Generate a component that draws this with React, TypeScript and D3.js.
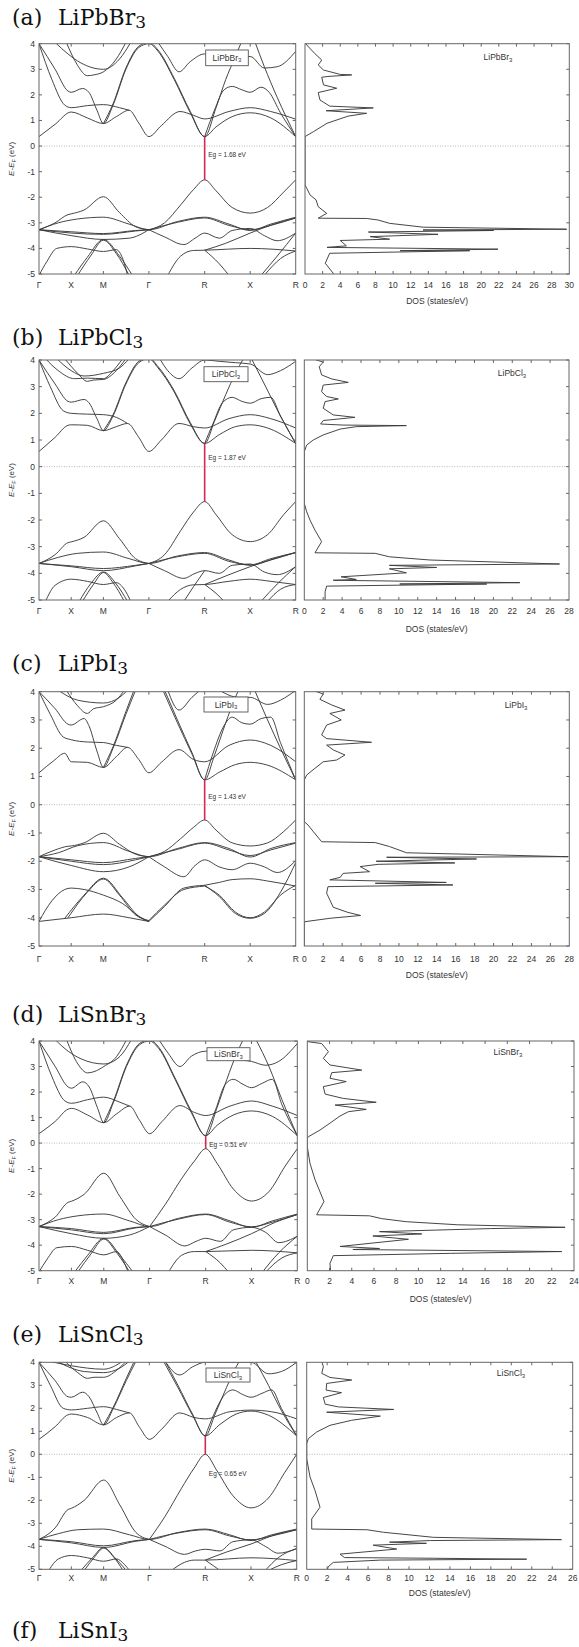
import React from "react";
import * as d3 from "d3";

type Pt = [number, number];

// ---------- shared axes data ----------
const K_POINTS = [0, 1, 2, 3.414, 5.146, 6.56, 7.974];
const K_LABELS = ["Γ", "X", "M", "Γ", "R", "X", "R"];
const E_TICKS = [4, 3, 2, 1, 0, -1, -2, -3, -4, -5];
const PANEL_TAGS = ["(a)", "(b)", "(c)", "(d)", "(e)"];
const COMPOUNDS = ["LiPbBr", "LiPbCl", "LiPbI", "LiSnBr", "LiSnCl"];
const EXTRA_TAG = "(f)";
const EXTRA_COMPOUND = "LiSnI";
const GAP_LABELS = ["1.68", "1.87", "1.43", "0.51", "0.65"];
const CBM = [0.37, 0.87, 0.88, 0.29, 0.8];
const VBM = [-1.32, -1.31, -0.54, -0.22, 0.0];
const DOS_MAX = [30, 28, 28, 24, 26];

// ---------- band structures [k, E] ----------
const bandsLiPbBr3: Pt[][] = [
  [[0,0.37],[0.5,0.85],[1,1.33],[1.5,1.1],[2,0.88],[2.4,1.15],[2.8,1.4],[3.1,0.9],[3.414,0.37],[3.8,0.8],[4.38,1.35],[4.8,1.2],[5.146,1.06],[5.9,1.35],[6.56,1.5],[7.2,1.35],[7.974,1.05]],
  [[0,4],[0.5,3.0],[0.9,2.15],[1,2.1],[1.35,2.25],[1.55,2.1],[1.8,1.4],[2,0.88],[2.3,1.6],[2.7,3.0],[3.1,3.85],[3.414,4.0],[3.7,3.7],[4.2,2.6],[4.7,1.3],[5.146,0.37],[5.5,0.75],[6.0,1.15],[6.56,1.3],[7.2,1.1],[7.974,0.37]],
  [[0,4],[0.4,2.6],[0.8,1.6],[1,1.5],[1.5,1.58],[2,1.62],[2.5,1.5],[2.8,1.4]],
  [[2,0.88],[2.3,1.65],[2.7,3.05],[3.1,3.9],[3.414,4.05],[3.7,3.75],[4.2,2.65],[4.7,1.35],[5.146,0.37],[5.5,1.5],[5.8,2.6],[6.1,3.5],[6.3,4.1]],
  [[5.146,0.37],[5.45,1.4],[5.75,2.2],[6.0,2.33],[6.3,2.2],[6.56,2.1],[6.9,2.3],[7.15,2.1],[7.5,1.3],[7.974,0.37]],
  [[6.7,4.1],[7.0,3.1],[7.4,1.9],[7.974,0.37]],
  [[0.5,4.05],[0.9,3.6],[1.3,3.25],[2,3.0],[2.5,3.4],[2.85,4.05]],
  [[0.85,4.05],[1.2,3.15],[1.5,2.75],[1.7,2.78],[2,2.9],[2.4,3.4],[2.7,4.05]],
  [[3.7,4.05],[4.0,3.5],[4.35,2.9],[4.7,3.3],[5.146,3.6],[5.6,3.6],[6.0,3.5],[6.56,3.5],[7.0,3.05],[7.4,3.1],[7.974,3.7]],
  [[3.414,-3.28],[3.9,-3.0],[4.4,-2.3],[4.8,-1.7],[5.146,-1.32],[5.5,-1.75],[6.0,-2.4],[6.56,-2.62],[7.1,-2.4],[7.6,-1.8],[7.974,-1.32]],
  [[0,-3.27],[0.5,-3.0],[0.9,-2.68],[1,-2.65],[1.4,-2.5],[2,-1.98],[2.5,-2.6],[3.0,-3.15],[3.414,-3.27]],
  [[0,-3.27],[0.6,-3.0],[1.2,-2.85],[2,-2.78],[2.8,-3.05],[3.414,-3.27],[4.3,-2.95],[5.146,-2.78],[5.9,-3.05],[6.56,-3.3],[7.2,-3.05],[7.974,-2.78]],
  [[3.414,-3.27],[4.3,-2.98],[5.146,-2.81],[5.9,-3.1],[6.56,-3.27],[7.2,-3.1],[7.974,-2.81]],
  [[0,-3.27],[1,-3.35],[2,-3.42],[3,-3.3],[3.414,-3.27]],
  [[0,-3.27],[1,-3.4],[2,-3.45],[3,-3.32],[3.414,-3.27]],
  [[0,-3.27],[1,-3.5],[2,-3.65],[2.8,-3.6],[3.414,-3.27]],
  [[3.414,-3.27],[3.9,-3.55],[4.5,-3.85],[4.85,-3.6],[5.146,-3.4],[5.6,-3.6],[6.0,-3.3],[6.56,-3.22],[7.0,-3.5],[7.4,-3.7],[7.974,-3.4]],
  [[5.146,-4.07],[5.8,-3.8],[6.56,-3.4],[7.3,-3.05],[7.974,-2.81]],
  [[4.0,-5.05],[4.4,-4.3],[4.8,-4.08],[5.146,-4.07],[6.56,-4.0],[7.974,-4.1]],
  [[0,-5.05],[0.25,-4.5],[0.55,-4.0],[1,-3.93],[1.5,-4.02],[2,-4.12],[2.4,-4.05],[2.6,-4.4],[2.75,-5.05]],
  [[1.1,-5.05],[1.5,-4.35],[2,-3.65],[2.5,-4.3],[2.9,-5.05]],
  [[1.2,-5.05],[1.6,-4.3],[2,-3.68],[2.4,-4.2],[2.8,-5.05]],
  [[5.146,-4.07],[5.6,-4.6],[5.9,-5.05]],
  [[6.9,-5.05],[7.4,-4.3],[7.974,-3.4]],
  [[7.0,-5.05],[7.5,-4.4],[7.974,-4.1]],
];

const bandsLiPbCl3: Pt[][] = [
  [[0,0.57],[0.5,1.1],[0.9,1.55],[1,1.57],[1.5,1.55],[2,1.35],[2.4,1.5],[2.75,1.62],[3.1,1.1],[3.414,0.57],[3.8,1.0],[4.35,1.62],[4.8,1.5],[5.146,1.45],[5.9,1.8],[6.56,1.95],[7.2,1.8],[7.974,1.45]],
  [[0,4],[0.5,3.1],[0.9,2.45],[1,2.42],[1.4,2.52],[1.55,2.4],[1.8,1.8],[2,1.35],[2.3,1.9],[2.7,3.1],[3.1,3.9],[3.414,4.05],[3.7,3.7],[4.2,2.8],[4.7,1.6],[5.146,0.87],[5.6,1.2],[6.1,1.5],[6.56,1.57],[7.1,1.45],[7.974,0.87]],
  [[0,4],[0.35,3.0],[0.75,2.1],[1,2.0],[1.5,1.97],[2,1.95],[2.4,1.85],[2.75,1.62]],
  [[2,1.35],[2.3,1.95],[2.7,3.15],[3.1,3.95],[3.414,4.08],[3.7,3.75],[4.2,2.85],[4.7,1.65],[5.146,0.87],[5.45,1.7],[5.8,2.7],[6.1,3.5],[6.35,4.05]],
  [[5.146,0.87],[5.4,1.6],[5.7,2.4],[6.0,2.6],[6.3,2.45],[6.56,2.38],[6.9,2.55],[7.2,2.6],[7.5,1.9],[7.974,0.87]],
  [[6.6,4.05],[7.0,3.1],[7.5,1.9],[7.974,0.87]],
  [[0.55,4.05],[1.0,3.6],[1.4,3.4],[2,3.5],[2.5,3.7],[2.8,4.05]],
  [[0.8,4.05],[1.2,3.5],[1.5,3.2],[1.7,3.25],[2,3.27],[2.4,3.6],[2.7,4.05]],
  [[0.2,4.05],[0.6,3.6],[1.1,3.3],[1.5,3.32],[2,3.3],[2.3,3.6],[2.6,4.05]],
  [[3.75,4.05],[4.0,3.6],[4.35,3.3],[4.75,3.7],[5.146,4.0],[5.6,3.95],[6.1,3.9],[6.56,3.85],[7.1,3.45],[7.5,3.6],[7.974,3.95]],
  [[3.414,-3.63],[3.9,-3.3],[4.4,-2.4],[4.8,-1.7],[5.146,-1.31],[5.5,-1.8],[6.0,-2.55],[6.56,-2.81],[7.1,-2.55],[7.6,-1.8],[7.974,-1.31]],
  [[0,-3.63],[0.5,-3.3],[0.9,-2.85],[1,-2.82],[1.4,-2.65],[2,-2.03],[2.5,-2.7],[3.0,-3.45],[3.414,-3.63]],
  [[0,-3.63],[0.6,-3.4],[1.2,-3.25],[2,-3.2],[2.8,-3.45],[3.414,-3.63],[4.3,-3.35],[5.146,-3.22],[5.9,-3.5],[6.56,-3.7],[7.2,-3.5],[7.974,-3.22]],
  [[3.414,-3.63],[4.3,-3.38],[5.146,-3.25],[5.9,-3.55],[6.56,-3.68],[7.2,-3.45],[7.974,-3.22]],
  [[0,-3.63],[1,-3.72],[2,-3.82],[3,-3.7],[3.414,-3.63]],
  [[0,-3.63],[1,-3.75],[2,-3.9],[3,-3.72],[3.414,-3.63]],
  [[3.414,-3.63],[3.9,-3.9],[4.5,-4.19],[4.85,-4.0],[5.146,-3.9],[5.6,-4.0],[6.0,-3.7],[6.56,-3.65],[7.0,-3.95],[7.4,-4.05],[7.974,-3.75]],
  [[5.146,-4.42],[5.8,-4.1],[6.56,-3.75],[7.3,-3.45],[7.974,-3.22]],
  [[4.0,-5.05],[4.4,-4.6],[4.8,-4.43],[5.146,-4.42],[5.9,-4.3],[6.56,-4.22],[7.2,-4.3],[7.974,-4.42]],
  [[0.2,-5.05],[0.5,-4.45],[1,-4.22],[1.5,-4.3],[2,-4.42],[2.4,-4.35],[2.65,-4.6],[2.85,-5.05]],
  [[1.25,-5.05],[1.6,-4.4],[2,-3.95],[2.4,-4.4],[2.75,-5.05]],
  [[1.35,-5.05],[1.7,-4.4],[2,-3.97],[2.3,-4.35],[2.65,-5.05]],
  [[4.5,-5.05],[4.8,-4.5],[5.146,-3.9]],
  [[5.146,-4.42],[5.5,-4.75],[5.75,-5.05]],
  [[6.9,-5.05],[7.4,-4.4],[7.974,-3.75]],
  [[7.1,-5.05],[7.5,-4.6],[7.974,-4.42]],
];

const bandsLiPbI3: Pt[][] = [
  [[0,1.13],[0.45,1.55],[0.8,1.82],[1,1.52],[1.5,1.5],[2,1.32],[2.4,1.7],[2.75,2.03],[3.1,1.6],[3.414,1.13],[3.8,1.5],[4.35,1.95],[4.8,1.6],[5.146,1.52],[5.9,2.1],[6.56,2.29],[7.2,2.1],[7.974,1.52]],
  [[0,4],[0.5,3.4],[0.9,2.85],[1,2.82],[1.4,3.05],[1.55,2.8],[1.8,1.9],[2,1.32],[2.3,2.0],[2.7,3.2],[3.0,4.05]],
  [[3.85,4.05],[4.3,2.9],[4.75,1.8],[5.146,0.88],[5.6,1.15],[6.1,1.42],[6.56,1.5],[7.1,1.4],[7.974,0.88]],
  [[0,4],[0.35,3.2],[0.75,2.4],[1,2.3],[1.5,2.22],[2,2.2],[2.4,2.1],[2.75,2.03]],
  [[2,1.32],[2.3,2.05],[2.7,3.3],[2.95,4.05]],
  [[3.9,4.05],[4.3,3.0],[4.75,1.85],[5.146,0.88],[5.45,1.75],[5.8,2.9],[6.1,3.8],[6.2,4.05]],
  [[5.146,0.88],[5.4,1.8],[5.75,2.8],[6.0,3.1],[6.3,2.9],[6.56,2.85],[6.9,3.05],[7.2,3.1],[7.5,2.2],[7.974,0.88]],
  [[6.7,4.05],[7.1,3.0],[7.5,2.0],[7.974,0.88]],
  [[0.6,4.05],[1.2,3.7],[2,3.6],[2.5,3.8],[2.75,4.05]],
  [[0.85,4.05],[1.2,3.5],[1.5,3.23],[1.7,3.4],[2,3.47],[2.4,3.7],[2.65,4.05]],
  [[4.0,4.05],[4.35,3.35],[4.75,3.8],[5.0,4.05]],
  [[5.6,4.05],[6.2,3.8],[6.56,3.8],[7.1,3.55],[7.5,3.7],[7.974,4.05]],
  [[3.414,-1.84],[3.9,-1.65],[4.4,-1.2],[4.8,-0.8],[5.146,-0.54],[5.5,-0.9],[6.0,-1.35],[6.56,-1.46],[7.1,-1.35],[7.6,-0.95],[7.974,-0.54]],
  [[0,-1.84],[0.5,-1.6],[0.9,-1.47],[1,-1.46],[1.4,-1.35],[2,-1.01],[2.5,-1.4],[3.0,-1.75],[3.414,-1.84]],
  [[0,-1.84],[0.6,-1.7],[1.2,-1.45],[2,-1.34],[2.8,-1.65],[3.414,-1.84],[4.3,-1.55],[5.146,-1.34],[5.9,-1.55],[6.56,-1.85],[7.2,-1.55],[7.974,-1.34]],
  [[3.414,-1.84],[4.3,-1.58],[5.146,-1.36],[5.9,-1.6],[6.56,-1.8],[7.2,-1.6],[7.974,-1.36]],
  [[0,-1.84],[1,-1.95],[2,-2.05],[3,-1.9],[3.414,-1.84]],
  [[0,-1.84],[1,-2.0],[2,-2.12],[3,-1.95],[3.414,-1.84]],
  [[0,-1.84],[1,-2.15],[2,-2.37],[2.8,-2.2],[3.414,-1.84]],
  [[3.414,-1.84],[3.9,-2.2],[4.5,-2.55],[4.85,-2.15],[5.146,-1.95],[5.6,-2.2],[6.0,-2.3],[6.56,-2.07],[7.0,-2.2],[7.4,-2.4],[7.974,-1.98]],
  [[5.146,-2.85],[5.6,-2.75],[6.0,-2.65],[6.56,-2.62],[7.1,-2.7],[7.974,-2.88]],
  [[5.146,-2.88],[5.6,-3.2],[6.1,-3.8],[6.56,-4.0],[7.0,-3.8],[7.5,-3.2],[7.974,-2.85]],
  [[5.146,-2.85],[5.6,-3.25],[6.1,-3.85],[6.56,-4.02],[7.0,-3.85],[7.5,-3.1],[7.974,-2.05]],
  [[0,-4.13],[1,-4.0],[2,-3.87],[2.8,-4.0],[3.414,-4.13]],
  [[0,-4.13],[0.4,-3.4],[0.8,-3.0],[1,-2.95],[1.4,-3.0],[2,-3.2],[2.6,-3.5],[3.1,-3.95],[3.414,-4.13]],
  [[0.8,-4.02],[1.4,-3.2],[2,-2.6],[2.6,-3.3],[3.1,-3.95],[3.414,-4.13]],
  [[0.9,-4.0],[1.5,-3.1],[2,-2.63],[2.5,-3.2],[3.0,-3.9],[3.414,-4.1]],
  [[3.414,-4.13],[3.9,-3.6],[4.5,-2.95],[5.146,-2.85]],
  [[3.414,-4.1],[3.9,-3.55],[4.5,-3.0],[5.146,-2.88]],
];

const bandsLiSnBr3: Pt[][] = [
  [[0,0.37],[0.5,0.85],[0.9,1.33],[1,1.36],[1.5,1.1],[2,0.8],[2.4,1.15],[2.8,1.45],[3.1,0.9],[3.414,0.37],[3.8,0.85],[4.35,1.47],[4.8,1.2],[5.146,1.08],[5.9,1.45],[6.56,1.65],[7.2,1.45],[7.974,1.08]],
  [[0,4],[0.5,3.0],[0.9,2.2],[1,2.15],[1.35,2.4],[1.55,2.2],[1.8,1.4],[2,0.8],[2.3,1.6],[2.7,3.0],[3.1,3.85],[3.414,4.0],[3.7,3.7],[4.2,2.5],[4.7,1.2],[5.146,0.29],[5.5,0.7],[6.0,1.1],[6.56,1.26],[7.2,1.05],[7.974,0.29]],
  [[0,4],[0.4,2.6],[0.8,1.65],[1,1.56],[1.5,1.7],[2,1.8],[2.5,1.6],[2.8,1.45]],
  [[2,0.8],[2.3,1.65],[2.7,3.05],[3.1,3.9],[3.414,4.05],[3.7,3.75],[4.2,2.55],[4.7,1.25],[5.146,0.29],[5.5,1.4],[5.8,2.5],[6.1,3.5],[6.3,4.05]],
  [[5.146,0.29],[5.45,1.3],[5.75,2.3],[6.0,2.5],[6.3,2.3],[6.56,2.17],[6.9,2.35],[7.2,2.5],[7.5,1.5],[7.974,0.29]],
  [[6.7,4.05],[7.1,3.0],[7.5,1.7],[7.974,0.29]],
  [[0.5,4.05],[0.9,3.6],[1.3,3.3],[2,3.1],[2.5,3.4],[2.85,4.05]],
  [[0.85,4.05],[1.2,3.1],[1.5,2.75],[1.7,2.8],[2,3.0],[2.4,3.4],[2.7,4.05]],
  [[3.7,4.05],[4.0,3.5],[4.35,3.0],[4.7,3.4],[5.146,3.6],[5.6,3.6],[6.0,3.3],[6.56,3.2],[7.0,3.05],[7.4,3.2],[7.974,3.9]],
  [[3.414,-3.27],[3.9,-2.4],[4.4,-1.4],[4.8,-0.7],[5.146,-0.22],[5.5,-0.8],[6.0,-1.8],[6.56,-2.27],[7.1,-1.9],[7.6,-0.9],[7.974,-0.22]],
  [[0,-3.27],[0.5,-2.9],[0.9,-2.32],[1,-2.28],[1.4,-2.0],[2,-1.18],[2.5,-2.1],[3.0,-3.0],[3.414,-3.27]],
  [[0,-3.27],[0.6,-3.0],[1.2,-2.85],[2,-2.78],[2.8,-3.05],[3.414,-3.27],[4.3,-2.95],[5.146,-2.78],[5.9,-3.05],[6.56,-3.3],[7.2,-3.05],[7.974,-2.78]],
  [[3.414,-3.27],[4.3,-2.98],[5.146,-2.8],[5.9,-3.1],[6.56,-3.28],[7.2,-3.1],[7.974,-2.8]],
  [[0,-3.27],[1,-3.35],[2,-3.5],[3,-3.3],[3.414,-3.27]],
  [[0,-3.27],[1,-3.4],[2,-3.55],[3,-3.32],[3.414,-3.27]],
  [[0,-3.27],[1,-3.55],[2,-3.73],[2.8,-3.6],[3.414,-3.27]],
  [[3.414,-3.27],[3.9,-3.6],[4.5,-4.03],[4.85,-3.85],[5.146,-3.73],[5.6,-3.85],[6.0,-3.4],[6.56,-3.3],[7.0,-3.5],[7.4,-3.9],[7.974,-3.65]],
  [[5.146,-4.25],[5.8,-3.95],[6.56,-3.55],[7.3,-3.1],[7.974,-2.8]],
  [[4.0,-5.05],[4.4,-4.4],[4.8,-4.25],[5.146,-4.25],[6.56,-4.2],[7.974,-4.3]],
  [[0,-5.05],[0.25,-4.55],[0.55,-4.1],[1,-4.05],[1.5,-4.2],[2,-4.38],[2.4,-4.25],[2.6,-4.6],[2.75,-5.05]],
  [[1.1,-5.05],[1.5,-4.4],[2,-3.73],[2.5,-4.4],[2.9,-5.05]],
  [[1.2,-5.05],[1.6,-4.35],[2,-3.76],[2.4,-4.3],[2.8,-5.05]],
  [[5.146,-4.25],[5.6,-4.7],[5.85,-5.05]],
  [[6.9,-5.05],[7.4,-4.3],[7.974,-3.65]],
  [[7.0,-5.05],[7.5,-4.5],[7.974,-4.3]],
];

const bandsLiSnCl3: Pt[][] = [
  [[0,0.65],[0.5,1.2],[0.9,1.72],[1,1.75],[1.5,1.6],[2,1.28],[2.4,1.6],[2.8,1.8],[3.1,1.2],[3.414,0.65],[3.8,1.1],[4.35,1.8],[4.8,1.6],[5.146,1.54],[5.9,1.85],[6.56,1.92],[7.2,1.85],[7.974,1.54]],
  [[0,4],[0.5,3.2],[0.9,2.5],[1,2.48],[1.35,2.7],[1.55,2.5],[1.8,1.8],[2,1.28],[2.3,2.0],[2.7,3.2],[3.0,4.05]],
  [[3.85,4.05],[4.3,2.9],[4.75,1.7],[5.146,0.8],[5.6,1.3],[6.1,1.75],[6.56,1.88],[7.1,1.7],[7.974,0.8]],
  [[0,4],[0.35,3.0],[0.75,2.0],[1,1.93],[1.5,2.0],[2,2.07],[2.4,1.95],[2.8,1.8]],
  [[2,1.28],[2.3,2.05],[2.7,3.3],[2.95,4.05]],
  [[3.9,4.05],[4.3,3.0],[4.75,1.75],[5.146,0.8],[5.45,1.75],[5.8,2.9],[6.1,3.8],[6.2,4.05]],
  [[5.146,0.8],[5.4,1.7],[5.75,2.6],[6.0,2.8],[6.3,2.6],[6.56,2.48],[6.9,2.65],[7.2,2.8],[7.5,2.0],[7.974,0.8]],
  [[6.7,4.05],[7.1,3.0],[7.5,1.9],[7.974,0.8]],
  [[0.55,4.05],[1.0,3.75],[1.4,3.6],[2,3.55],[2.5,3.75],[2.8,4.05]],
  [[0.8,4.05],[1.2,3.55],[1.5,3.3],[1.7,3.35],[2,3.35],[2.4,3.65],[2.7,4.05]],
  [[0.3,4.05],[1,3.85],[2,3.7],[2.6,4.05]],
  [[3.9,4.05],[4.35,3.45],[4.75,3.8],[5.146,4.0],[6.0,4.0],[6.56,4.0],[7.1,3.5],[7.5,3.6],[7.974,4.0]],
  [[3.414,-3.7],[3.9,-2.7],[4.4,-1.5],[4.8,-0.6],[5.146,0.0],[5.5,-0.7],[6.0,-1.8],[6.56,-2.33],[7.1,-1.9],[7.6,-0.8],[7.974,0.0]],
  [[0,-3.7],[0.5,-3.2],[0.9,-2.4],[1,-2.35],[1.4,-2.0],[2,-1.12],[2.5,-2.2],[3.0,-3.4],[3.414,-3.7]],
  [[0,-3.7],[0.6,-3.45],[1.2,-3.28],[2,-3.25],[2.8,-3.5],[3.414,-3.7],[4.3,-3.4],[5.146,-3.25],[5.9,-3.5],[6.56,-3.75],[7.2,-3.5],[7.974,-3.25]],
  [[3.414,-3.7],[4.3,-3.42],[5.146,-3.28],[5.9,-3.55],[6.56,-3.72],[7.2,-3.55],[7.974,-3.28]],
  [[0,-3.7],[1,-3.8],[2,-3.98],[3,-3.75],[3.414,-3.7]],
  [[0,-3.7],[1,-3.85],[2,-4.05],[3,-3.78],[3.414,-3.7]],
  [[3.414,-3.7],[3.9,-4.0],[4.5,-4.35],[4.85,-4.2],[5.146,-4.13],[5.6,-4.2],[6.0,-3.8],[6.56,-3.72],[7.0,-4.0],[7.4,-4.3],[7.974,-4.1]],
  [[5.146,-4.6],[5.8,-4.25],[6.56,-3.9],[7.3,-3.5],[7.974,-3.28]],
  [[4.1,-5.05],[4.5,-4.7],[4.8,-4.6],[5.146,-4.6],[6.56,-4.5],[7.974,-4.62]],
  [[0.3,-5.05],[0.6,-4.55],[1,-4.4],[1.5,-4.5],[2,-4.65],[2.4,-4.55],[2.65,-4.8],[2.8,-5.05]],
  [[1.3,-5.05],[1.65,-4.5],[2,-4.05],[2.35,-4.5],[2.7,-5.05]],
  [[1.4,-5.05],[1.7,-4.5],[2,-4.08],[2.3,-4.45],[2.6,-5.05]],
  [[5.146,-4.6],[5.4,-4.85],[5.6,-5.05]],
  [[7.0,-5.05],[7.4,-4.5],[7.974,-4.1]],
  [[7.1,-5.05],[7.5,-4.8],[7.974,-4.62]],
];

// ---------- DOS traces [E, DOS] ----------
const dosLiPbBr3: Pt[] = [[4.02,0.1],[3.95,0.2],[3.62,1.1],[3.36,1.9],[3.17,1.5],[2.97,2.1],[2.8,4.0],[2.78,5.3],[2.72,2.6],[2.69,1.9],[2.39,2.1],[2.26,3.6],[2.09,1.5],[1.8,1.7],[1.56,2.8],[1.49,7.75],[1.38,2.4],[1.28,7.0],[1.17,4.9],[0.89,2.5],[0.56,0.95],[0.37,0],[-1.52,0],[-1.65,0.2],[-1.91,0.57],[-2.1,1.25],[-2.37,1.5],[-2.63,2.46],[-2.82,1.5],[-2.83,7.0],[-2.89,8.3],[-3.02,9.6],[-3.17,13.4],[-3.25,29.7],[-3.28,13.4],[-3.3,21.4],[-3.36,7.2],[-3.45,15.1],[-3.54,7.4],[-3.64,9.6],[-3.69,4.0],[-3.9,4.7],[-3.96,2.5],[-4.03,21.9],[-4.09,10.8],[-4.09,18.7],[-4.19,2.8],[-4.58,2.3],[-4.97,3.2],[-5.05,3.3]];
const dosLiPbCl3: Pt[] = [[4.02,1.13],[3.92,2.0],[3.75,1.58],[3.44,1.83],[3.29,2.9],[3.16,4.65],[3.06,2.0],[2.81,1.83],[2.63,2.36],[2.54,3.6],[2.44,2.2],[2.19,2.0],[1.94,3.06],[1.85,5.35],[1.73,2.0],[1.6,1.73],[1.56,4.1],[1.54,10.8],[1.5,5.5],[1.41,3.8],[1.19,2.0],[1.0,0.95],[0.81,0.25],[0.56,0],[-1.38,0],[-1.69,0.25],[-2.0,0.6],[-2.38,1.13],[-2.81,1.83],[-3.23,1.13],[-3.25,7.5],[-3.38,9.0],[-3.5,13.3],[-3.65,27.0],[-3.7,9.0],[-3.78,14.0],[-3.83,9.0],[-3.98,10.8],[-4.13,3.9],[-4.23,5.5],[-4.26,3.06],[-4.35,22.8],[-4.4,10.1],[-4.4,19.3],[-4.48,2.36],[-4.69,2.2],[-5.05,2.2]];
const dosLiPbI3: Pt[] = [[4.02,1.13],[3.92,2.0],[3.73,1.65],[3.53,2.9],[3.35,4.3],[3.23,2.7],[3.0,3.9],[2.82,2.36],[2.47,1.83],[2.34,2.36],[2.21,7.1],[2.11,2.36],[1.94,3.06],[1.76,4.3],[1.58,3.4],[1.52,2.0],[1.29,1.13],[1.05,0.25],[0.88,0],[-0.6,0],[-0.72,0.4],[-0.95,0.95],[-1.31,1.83],[-1.34,7.5],[-1.48,9.0],[-1.7,10.8],[-1.84,27.9],[-1.86,8.7],[-1.92,18.2],[-2.0,7.6],[-2.06,15.9],[-2.11,7.8],[-2.19,5.9],[-2.37,6.9],[-2.43,4.1],[-2.57,3.8],[-2.66,2.7],[-2.75,15.0],[-2.78,7.5],[-2.84,15.7],[-2.9,2.5],[-3.13,2.36],[-3.37,2.7],[-3.63,3.06],[-3.81,4.6],[-3.92,5.95],[-4.02,2.7],[-4.14,0.07],[-4.2,0],[-5.05,0]];
const dosLiSnBr3: Pt[] = [[4.02,0.05],[3.97,0.1],[3.9,1.3],[3.58,1.9],[3.32,1.44],[3.06,2.04],[2.86,4.9],[2.76,2.2],[2.54,2.04],[2.41,3.5],[2.21,1.44],[1.92,1.6],[1.75,3.24],[1.6,6.2],[1.49,2.5],[1.32,5.3],[1.23,3.7],[1.06,2.94],[0.78,2.04],[0.51,1.14],[0.25,0.1],[0.19,0],[-0.14,0],[-0.79,0.24],[-1.44,0.7],[-2.29,1.5],[-2.81,0.84],[-2.85,5.6],[-2.96,6.7],[-3.08,8.9],[-3.2,13.5],[-3.3,23.2],[-3.35,16.5],[-3.47,6.5],[-3.56,10.3],[-3.64,5.9],[-3.77,9.1],[-4.05,2.94],[-4.13,6.5],[-4.17,4.1],[-4.25,22.9],[-4.32,12.9],[-4.41,2.34],[-4.71,2.04],[-5.05,2.1]];
const dosLiSnCl3: Pt[] = [[4.02,1.47],[3.81,1.63],[3.52,1.47],[3.34,2.28],[3.23,4.4],[3.08,1.95],[2.79,1.9],[2.68,3.4],[2.47,1.63],[2.18,1.8],[2.06,3.1],[1.95,8.5],[1.83,1.95],[1.66,7.2],[1.48,4.4],[1.26,2.28],[0.97,0.98],[0.68,0.16],[0.46,0],[-0.19,0],[-0.99,0.33],[-1.57,0.81],[-2.3,1.3],[-2.81,0.49],[-3.25,0.49],[-3.28,5.9],[-3.39,7.5],[-3.61,12.4],[-3.71,24.9],[-3.75,12.1],[-3.82,8.1],[-3.87,11.7],[-3.95,6.5],[-4.12,8.8],[-4.34,3.26],[-4.49,3.7],[-4.52,12.4],[-4.56,21.5],[-4.6,7.2],[-4.7,2.6],[-4.89,2.1],[-5.05,2.0]];

const BANDS = [bandsLiPbBr3, bandsLiPbCl3, bandsLiPbI3, bandsLiSnBr3, bandsLiSnCl3];
const DOS = [dosLiPbBr3, dosLiPbCl3, dosLiPbI3, dosLiSnBr3, dosLiSnCl3];

// ---------- layout (pixels) ----------
const LAYOUTS = [
  { titleY: 25, bx0: 39, bx1: 295.7, dx0: 305, dx1: 569.3, y0: 43.7, y1: 274, xlabY: 288, dosLabY: 304, legend: [205.7, 50, 42.6, 15.7], egY: 157, nameX: 498, nameY: 60 },
  { titleY: 345, bx0: 39, bx1: 295.7, dx0: 304.3, dx1: 569, y0: 360, y1: 600, xlabY: 614, dosLabY: 632, legend: [204, 366.7, 44, 15], egY: 460, nameX: 512, nameY: 376 },
  { titleY: 671, bx0: 39, bx1: 295.7, dx0: 304.3, dx1: 569.3, y0: 691.7, y1: 946, xlabY: 962, dosLabY: 978, legend: [204, 697, 44, 15], egY: 799, nameX: 516, nameY: 708 },
  { titleY: 1022, bx0: 39, bx1: 297.3, dx0: 307.3, dx1: 574, y0: 1041, y1: 1270.7, xlabY: 1284, dosLabY: 1302, legend: [207, 1047.7, 43, 13], egY: 1147, nameX: 508, nameY: 1055 },
  { titleY: 1342, bx0: 39, bx1: 296.7, dx0: 306.7, dx1: 572.7, y0: 1362.3, y1: 1569.3, xlabY: 1581, dosLabY: 1596, legend: [206, 1368, 44, 14], egY: 1476, nameX: 511, nameY: 1376 },
];
const EXTRA_TITLE_Y = 1638;

const SANS = "'Liberation Sans', Arial, sans-serif";
const SERIF = "'DejaVu Serif', serif";
const LINE = "#3c3c3c";
const FRAME = "#666";

function Title({ tag, name, y }: { tag: string; name: string; y: number }) {
  return (
    <g fontFamily={SERIF} fill="#111">
      <text x={12} y={y} fontSize={22}>{tag}</text>
      <text x={58} y={y} fontSize={22}>
        {name}
        <tspan fontSize={17} dy={3}>3</tspan>
      </text>
    </g>
  );
}

function Panel({ idx }: { idx: number }) {
  const L = LAYOUTS[idx];
  const bands = BANDS[idx];
  const dos = DOS[idx];
  const x = d3.scaleLinear().domain([K_POINTS[0], K_POINTS[K_POINTS.length - 1]]).range([L.bx0, L.bx1]);
  const y = d3.scaleLinear().domain([-5, 4]).range([L.y1, L.y0]);
  const xd = d3.scaleLinear().domain([0, DOS_MAX[idx]]).range([L.dx0, L.dx1]);
  const bandLine = d3.line<Pt>().x((d) => x(d[0])).y((d) => y(d[1])).curve(d3.curveMonotoneX);
  const dosLine = d3.line<Pt>().x((d) => xd(d[1])).y((d) => y(d[0]));
  const dosTicks = d3.range(0, DOS_MAX[idx] + 0.1, 2);
  const clipB = `clipB${idx}`;
  const clipD = `clipD${idx}`;
  const [lx, ly, lw, lh] = L.legend;
  const rx = x(K_POINTS[4]);
  const tl = 3;
  return (
    <g>
      <Title tag={PANEL_TAGS[idx]} name={COMPOUNDS[idx]} y={L.titleY} />
      <defs>
        <clipPath id={clipB}><rect x={L.bx0} y={L.y0} width={L.bx1 - L.bx0} height={L.y1 - L.y0} /></clipPath>
        <clipPath id={clipD}><rect x={L.dx0} y={L.y0} width={L.dx1 - L.dx0} height={L.y1 - L.y0} /></clipPath>
      </defs>
      <line x1={L.bx0} x2={L.bx1} y1={y(0)} y2={y(0)} stroke="#999" strokeWidth={0.7} strokeDasharray="1,1.5" />
      <line x1={L.dx0} x2={L.dx1} y1={y(0)} y2={y(0)} stroke="#999" strokeWidth={0.7} strokeDasharray="1,1.5" />
      <g clipPath={`url(#${clipB})`}>
        {bands.map((b, i) => (
          <path key={i} d={bandLine(b) || ""} fill="none" stroke={LINE} strokeWidth={0.95} />
        ))}
      </g>
      <line x1={rx} x2={rx} y1={y(CBM[idx])} y2={y(VBM[idx])} stroke="#d22a52" strokeWidth={1.6} />
      <text x={rx + 3.5} y={L.egY} fontFamily={SANS} fontSize={6.5} fill="#333">{`Eg = ${GAP_LABELS[idx]} eV`}</text>
      <rect x={lx} y={ly} width={lw} height={lh} fill="#fff" stroke="#555" strokeWidth={0.9} />
      <text x={lx + lw / 2} y={ly + lh / 2 + 3} textAnchor="middle" fontFamily={SANS} fontSize={8.5} fill="#333">
        {COMPOUNDS[idx]}<tspan fontSize={6} dy={1.5}>3</tspan>
      </text>
      <rect x={L.bx0} y={L.y0} width={L.bx1 - L.bx0} height={L.y1 - L.y0} fill="none" stroke={FRAME} strokeWidth={1} />
      {E_TICKS.map((e) => (
        <g key={e}>
          <line x1={L.bx0} x2={L.bx0 + tl} y1={y(e)} y2={y(e)} stroke={FRAME} />
          <line x1={L.bx1} x2={L.bx1 - tl} y1={y(e)} y2={y(e)} stroke={FRAME} />
          <line x1={L.dx1} x2={L.dx1 - tl} y1={y(e)} y2={y(e)} stroke={FRAME} />
          <text x={35} y={y(e) + 3} textAnchor="end" fontFamily={SANS} fontSize={8.5} fill="#333">{e}</text>
        </g>
      ))}
      {K_POINTS.map((k, i) => (
        <g key={i}>
          {i > 0 && i < K_POINTS.length - 1 && (
            <>
              <line x1={x(k)} x2={x(k)} y1={L.y0} y2={L.y0 + tl} stroke={FRAME} />
              <line x1={x(k)} x2={x(k)} y1={L.y1} y2={L.y1 - tl} stroke={FRAME} />
            </>
          )}
          <text x={x(k)} y={L.xlabY} textAnchor="middle" fontFamily={SANS} fontSize={8.5} fill="#333">{K_LABELS[i]}</text>
        </g>
      ))}
      <text transform={`translate(14,${(L.y0 + L.y1) / 2}) rotate(-90)`} textAnchor="middle" fontFamily={SANS} fontSize={8} fill="#333">
        <tspan fontStyle="italic">E</tspan>-<tspan fontStyle="italic">E</tspan><tspan fontSize={5.5} dy={1.5}>F</tspan><tspan dy={-1.5}> (eV)</tspan>
      </text>
      <g clipPath={`url(#${clipD})`}>
        <path d={dosLine(dos) || ""} fill="none" stroke={LINE} strokeWidth={0.95} />
      </g>
      <rect x={L.dx0} y={L.y0} width={L.dx1 - L.dx0} height={L.y1 - L.y0} fill="none" stroke={FRAME} strokeWidth={1} />
      {dosTicks.map((t) => (
        <g key={t}>
          {t > 0 && t < DOS_MAX[idx] && (
            <>
              <line x1={xd(t)} x2={xd(t)} y1={L.y1} y2={L.y1 - tl} stroke={FRAME} />
              <line x1={xd(t)} x2={xd(t)} y1={L.y0} y2={L.y0 + tl} stroke={FRAME} />
            </>
          )}
          <text x={xd(t)} y={L.xlabY} textAnchor="middle" fontFamily={SANS} fontSize={8.5} fill="#333">{t}</text>
        </g>
      ))}
      <text x={(L.dx0 + L.dx1) / 2} y={L.dosLabY} textAnchor="middle" fontFamily={SANS} fontSize={8.5} fill="#333">DOS (states/eV)</text>
      <text x={L.nameX} y={L.nameY} textAnchor="middle" fontFamily={SANS} fontSize={8.5} fill="#333">
        {COMPOUNDS[idx]}<tspan fontSize={6} dy={1.5}>3</tspan>
      </text>
    </g>
  );
}

export default function App() {
  return (
    <svg width={579} height={1647} style={{ position: "absolute", left: 0, top: 0, background: "#fff" }}>
      <rect x={0} y={0} width={579} height={1647} fill="#fff" />
      {LAYOUTS.map((_, i) => (
        <Panel key={i} idx={i} />
      ))}
      <Title tag={EXTRA_TAG} name={EXTRA_COMPOUND} y={EXTRA_TITLE_Y} />
    </svg>
  );
}
